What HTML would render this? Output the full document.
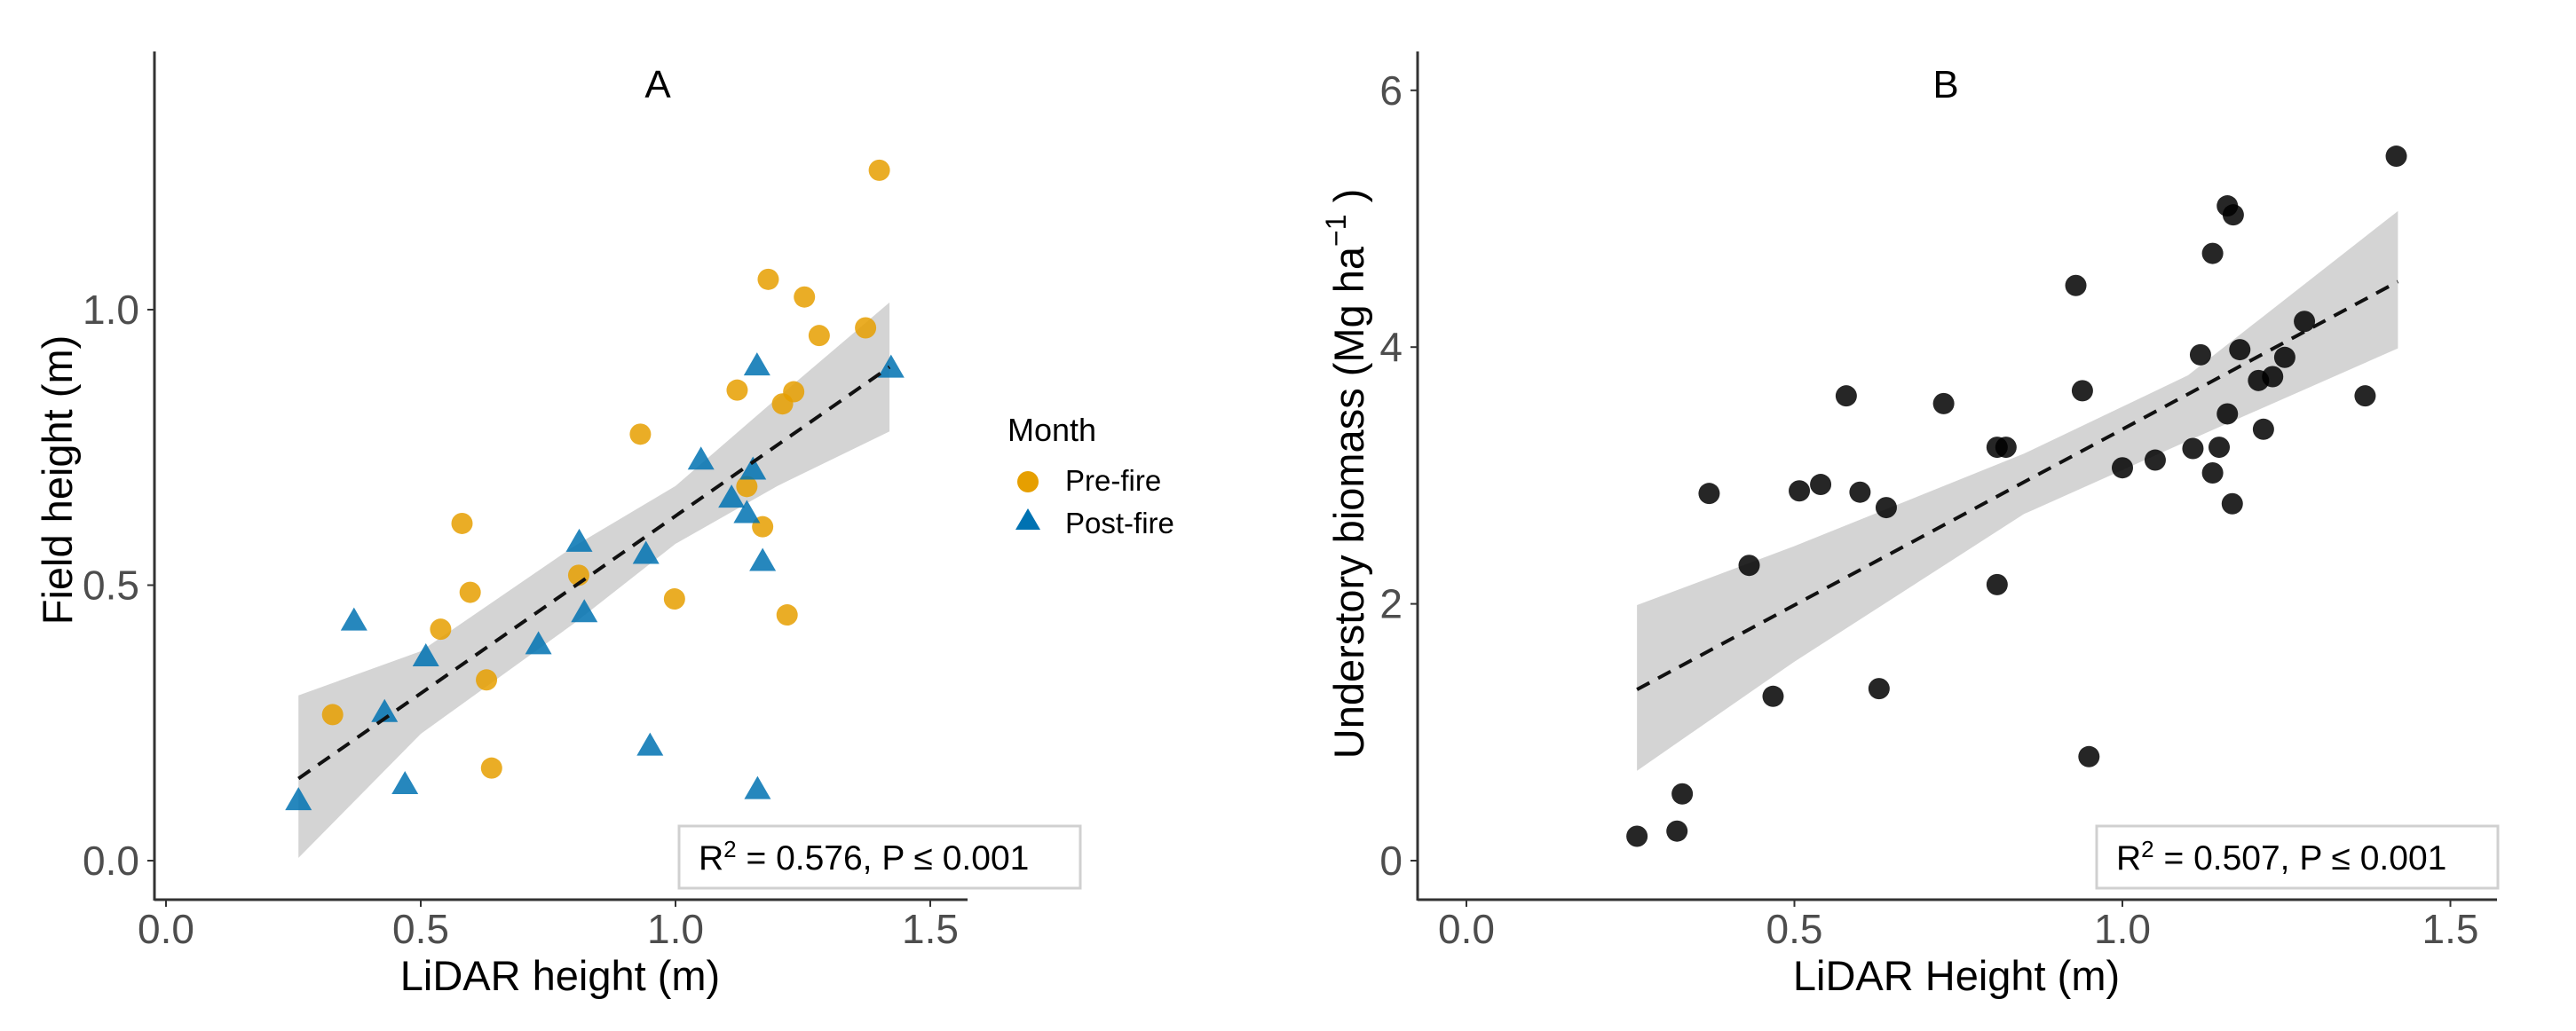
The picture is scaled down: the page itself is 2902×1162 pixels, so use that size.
<!DOCTYPE html>
<html><head><meta charset="utf-8">
<style>
html,body{margin:0;padding:0;background:#fff;}
svg{display:block;font-family:"Liberation Sans",Arial,sans-serif;}
</style></head>
<body>
<svg id="fig" width="2902" height="1162" viewBox="0 0 2902 1162" xmlns="http://www.w3.org/2000/svg">
<g id="pA"></g>
<g id="pB"></g>
</svg>
<script>
// Panel A data
const aPreX=[1.40,1.182,1.253,1.282,1.373,1.121,1.232,1.21,0.931,1.14,1.171,0.581,0.597,0.81,0.998,1.219,0.539,0.629,0.327,0.639];
const aPreY=[1.253,1.055,1.023,0.953,0.967,0.854,0.851,0.829,0.774,0.679,0.606,0.612,0.487,0.518,0.475,0.446,0.42,0.328,0.265,0.168];
const aPostX=[1.16,1.423,1.05,1.152,1.11,1.14,1.171,0.811,0.942,0.821,0.369,0.731,0.51,0.429,0.95,0.469,1.161,0.26];
const aPostY=[0.90,0.896,0.729,0.711,0.66,0.632,0.545,0.58,0.558,0.452,0.437,0.394,0.372,0.271,0.21,0.14,0.131,0.111];
const aFit=[0.26,0.149,1.42,0.896];
const aBandX=[0.26,0.5,0.8,1.0,1.2,1.42];
const aBandLo=[0.005,0.23,0.43,0.575,0.68,0.779];
const aBandHi=[0.30,0.38,0.57,0.68,0.84,1.013];
const aXTicks=[0,0.5,1.0,1.5];
const aXLabels=["0.0","0.5","1.0","1.5"];
const aYTicks=[0,0.5,1.0];
const aYLabels=["0.0","0.5","1.0"];
// Panel B data
const bX=[1.4175,1.16,1.169,1.1375,0.929,1.2775,1.119,1.179,1.2475,1.2075,1.229,0.939,0.579,0.7275,1.37,1.16,1.215,0.809,0.8225,1.1075,1.1475,1.05,1.0,1.1375,1.1675,0.37,0.5075,0.54,0.6,0.64,0.431,0.809,0.4675,0.629,0.949,0.329,0.321,0.26];
const bY=[5.487,5.10,5.03,4.73,4.48,4.2,3.94,3.98,3.92,3.74,3.77,3.66,3.62,3.56,3.62,3.48,3.36,3.22,3.22,3.21,3.22,3.12,3.06,3.02,2.78,2.86,2.88,2.93,2.87,2.75,2.30,2.15,1.28,1.34,0.81,0.52,0.23,0.19];
const bFit=[0.26,1.333,1.42,4.51];
const bBandX=[0.26,0.5,0.85,1.1,1.42];
const bBandLo=[0.70,1.55,2.70,3.27,3.99];
const bBandHi=[1.99,2.45,3.17,3.78,5.06];
const bXTicks=[0,0.5,1.0,1.5];
const bXLabels=["0.0","0.5","1.0","1.5"];
const bYTicks=[0,2,4,6];
const bYLabels=["0","2","4","6"];

const NS="http://www.w3.org/2000/svg";
function mk(parent,tag,attrs,text){const e=document.createElementNS(NS,tag);for(const k in attrs)e.setAttribute(k,attrs[k]);if(text!==undefined)e.textContent=text;parent.appendChild(e);return e;}

function panel(g,cfg){
  const sx=v=>cfg.x0+cfg.xs*v, sy=v=>cfg.y0-cfg.ys*v;
  let d="M"+cfg.bandX.map((x,i)=>sx(x)+","+sy(cfg.bandHi[i])).join(" L");
  for(let i=cfg.bandX.length-1;i>=0;i--) d+=" L"+sx(cfg.bandX[i])+","+sy(cfg.bandLo[i]);
  const band=mk(g,"path",{d:d+"Z",fill:"#d4d4d4"});
  
  
  cfg.series.forEach(s=>{
    s.xs.forEach((x,i)=>{
      let el;
      if(s.shape==="circle"){el=mk(g,"circle",{cx:sx(x),cy:sy(s.ys[i]),r:12,fill:s.color,"fill-opacity":0.85});}
      else{const cx=sx(x),cy=sy(s.ys[i]);el=mk(g,"polygon",{points:`${cx},${cy-14} ${cx-15},${cy+12} ${cx+15},${cy+12}`,fill:s.color,"fill-opacity":0.85});}
      
      
    });
  });
  const fit=mk(g,"line",{x1:sx(cfg.fit[0]),y1:sy(cfg.fit[1]),x2:sx(cfg.fit[2]),y2:sy(cfg.fit[3]),stroke:"#111","stroke-width":4,"stroke-dasharray":"16,11"});
  
  
  const ya=mk(g,"line",{x1:cfg.axX,y1:58,x2:cfg.axX,y2:1015,stroke:"#333","stroke-width":3});
  
  
  const xa=mk(g,"line",{x1:cfg.axX,y1:1014,x2:cfg.axEnd,y2:1014,stroke:"#333","stroke-width":3});
  
  
  cfg.xTicks.forEach((v,i)=>{
    mk(g,"line",{x1:sx(v),y1:1014,x2:sx(v),y2:1022,stroke:"#333","stroke-width":2});
    const t=mk(g,"text",{x:sx(v),y:1063,"text-anchor":"middle","font-size":46,fill:"#4d4d4d"},cfg.xLabels[i]);
    
    
  });
  cfg.yTicks.forEach((v,i)=>{
    mk(g,"line",{x1:cfg.axX-8,y1:sy(v),x2:cfg.axX,y2:sy(v),stroke:"#333","stroke-width":2});
    const t=mk(g,"text",{x:cfg.axX-17,y:sy(v)+16,"text-anchor":"end","font-size":46,fill:"#4d4d4d"},cfg.yLabels[i]);
    
    
  });
}

const gA=document.getElementById("pA"), gB=document.getElementById("pB");
panel(gA,{x0:187,xs:574,y0:970,ys:621,axX:174,axEnd:1090,bandX:aBandX,bandLo:aBandLo,bandHi:aBandHi,fit:aFit,
  xTicks:aXTicks,xLabels:aXLabels,yTicks:aYTicks,yLabels:aYLabels,
  series:[{xs:aPreX,ys:aPreY,shape:"circle",color:"#E69F00",name:"pre-fire-point"},{xs:aPostX,ys:aPostY,shape:"tri",color:"#0072B2",name:"post-fire-point"}]});
panel(gB,{x0:1652,xs:739,y0:970,ys:144.7,axX:1597,axEnd:2813,bandX:bBandX,bandLo:bBandLo,bandHi:bBandHi,fit:bFit,
  xTicks:bXTicks,xLabels:bXLabels,yTicks:bYTicks,yLabels:bYLabels,
  series:[{xs:bX,ys:bY,shape:"circle",color:"#000",name:"biomass-point"}]});
</script>
<script>
(function(){
const svg=document.getElementById("fig");
svg.insertAdjacentHTML("beforeend",`
<text x="741" y="110" text-anchor="middle" font-size="44" fill="#000">A</text>
<text x="2192" y="110" text-anchor="middle" font-size="44" fill="#000">B</text>
<text x="631" y="1116" text-anchor="middle" font-size="47" fill="#000">LiDAR height (m)</text>
<text x="2204" y="1116" text-anchor="middle" font-size="47" fill="#000">LiDAR Height (m)</text>
<text transform="translate(81,541) rotate(-90)" text-anchor="middle" font-size="47" fill="#000">Field height (m)</text>
<text transform="translate(1536,534) rotate(-90)" text-anchor="middle" font-size="47" fill="#000">Understory biomass (Mg ha<tspan dy="-20" font-size="32">−1</tspan><tspan dy="20"> )</tspan></text>
<g>
<text x="1135" y="497" font-size="36" fill="#000">Month</text>
<circle cx="1158" cy="543" r="12" fill="#E69F00"/>
<text x="1200" y="553" font-size="33" fill="#000">Pre-fire</text>
<polygon points="1158,573 1144,597 1172,597" fill="#0072B2"/>
<text x="1200" y="601" font-size="33" fill="#000">Post-fire</text>
</g>
<g>
<rect x="765" y="931" width="452" height="70" fill="#fff" stroke="#d0d0d0" stroke-width="3"/>
<text x="787" y="980" font-size="39" fill="#000">R<tspan dy="-14" font-size="26">2</tspan><tspan dy="14"> = 0.576, P ≤ 0.001</tspan></text>
</g>
<g>
<rect x="2362" y="931" width="452" height="70" fill="#fff" stroke="#d0d0d0" stroke-width="3"/>
<text x="2384" y="980" font-size="39" fill="#000">R<tspan dy="-14" font-size="26">2</tspan><tspan dy="14"> = 0.507, P ≤ 0.001</tspan></text>
</g>`);
})();
</script>
</body></html>
